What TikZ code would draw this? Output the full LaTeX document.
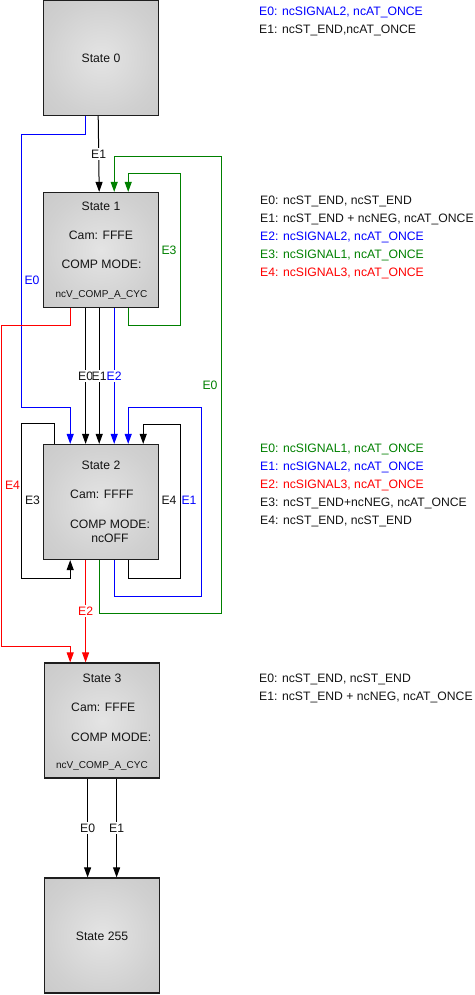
\documentclass[tikz,border=0pt]{standalone}
\usepackage{fontspec}
\setmainfont{Liberation Sans}
\usetikzlibrary{arrows.meta,calc}
\definecolor{cblue}{RGB}{0,0,255}
\definecolor{cgreen}{RGB}{0,128,0}
\definecolor{cred}{RGB}{255,0,0}
\definecolor{boxin}{RGB}{228,228,228}
\definecolor{boxedge}{RGB}{208,208,208}
\definecolor{boxcorner}{RGB}{202,202,202}
\definecolor{boxline}{RGB}{30,30,30}
\definecolor{ink}{RGB}{20,20,20}
\pgfdeclareradialshading{boxshade}{\pgfpoint{0bp}{0bp}}{color(0bp)=(boxin); color(25bp)=(boxedge); color(36bp)=(boxcorner); color(50bp)=(boxcorner)}
\begin{document}
\begin{tikzpicture}[x=1pt,y=-1pt,
  state/.style={draw=boxline, line width=1.2pt, minimum width=115pt, minimum height=115pt,
    inner sep=0pt, shading=boxshade},
  wire/.style={line width=1pt, -{Triangle[width=7pt,length=10pt]}},
  txt/.style={font=\fontsize{12.2}{14}\selectfont, text=ink, inner sep=0pt, text height=8.7pt, text depth=0pt},
  small/.style={font=\fontsize{10}{12}\selectfont, text=ink, inner sep=0pt, text height=7.2pt, text depth=0pt},
  lbl/.style={txt, fill=white, inner xsep=0pt, inner ysep=1.5pt},
  leg/.style={txt, anchor=west}
]
\useasboundingbox (0,0) rectangle (474,995);

% states
\node[state] (s0) at (101,58) {};
\node[state] (s1) at (101,250) {};
\node[state] (s2) at (101,502) {};
\node[state] (s3) at (102,720.5) {};
\node[state] (s255) at (102,935.5) {};

% state texts
\node[txt] (t0) at (101,58) {State 0};
\node[txt] (t1a) at (101,206) {State 1};
\node[txt] (t1b) at (101,235) {Cam: FFFE};
\node[txt] (t1c) at (101.5,264) {COMP MODE:};
\node[small] (t1d) at (101.5,294) {ncV\_COMP\_A\_CYC};
\node[txt] (t2a) at (101,465) {State 2};
\node[txt, anchor=west] (t2b) at (70,494) {Cam: FFFF};
\node[txt] (t2c) at (110,524) {COMP MODE:};
\node[txt] (t2d) at (110,538) {ncOFF};
\node[txt] (t3a) at (102,678) {State 3};
\node[txt, anchor=west] (t3b) at (71,707) {Cam: FFFE};
\node[txt, anchor=west] (t3c) at (71,737) {COMP MODE:};
\node[small] (t3d) at (102,764.5) {ncV\_COMP\_A\_CYC};
\node[txt] (t255) at (102,936) {State 255};

% State 0 -> State 1 (E1)
\draw[wire] ([xshift=55.3pt]s0.south west) -- ([xshift=56.3pt]s1.north west)
  node[lbl, midway] {E1};
% State 0 -> State 2 (E0, blue)
\draw[wire, cblue] ([xshift=42.7pt]s0.south west) -- ++(0,18) -| (21,407)
  -| ([xshift=27.3pt]s2.north west);
\node[txt, text=cblue] (l0e0) at (32,280) {E0};

% State 1 -> State 2
\draw[wire] ([xshift=42.7pt]s1.south west) -- ([xshift=42.7pt]s2.north west)
  node[lbl, midway] {E0};
\draw[wire] ([xshift=56.3pt]s1.south west) -- ([xshift=56.3pt]s2.north west)
  node[lbl, midway] {E1};
\draw[wire, cblue] ([xshift=71.3pt]s1.south west) -- ([xshift=71.3pt]s2.north west)
  node[lbl, midway, text=cblue] {E2};

% State 1 -> State 3 (E4, red)
\draw[wire, cred] ([xshift=27.3pt]s1.south west) -- ++(0,17) -| (1,646)
  -| ([xshift=26.3pt]s3.north west);
\node[txt, text=cred] (l1e4) at (12.5,485) {E4};

% State 1 self loop (E3, green)
\draw[wire, cgreen] ([xshift=85.3pt]s1.south west) -- ++(0,17) -| (180.3,174)
  -| ([xshift=85.3pt]s1.north west);
\node[txt, text=cgreen] (l1e3) at (169,250) {E3};

% State 2 -> State 1 (E0, green)
\draw[wire, cgreen] ([xshift=56.3pt]s2.south west) -- ++(0,53) -| (221,157)
  -| ([xshift=71.3pt]s1.north west);
\node[txt, text=cgreen] (l2e0) at (210,385) {E0};

% State 2 self loops
\draw[wire] ([xshift=12pt]s2.north west) -- ++(0,-20) -| (21,578)
  -| ([xshift=27.3pt]s2.south west);
\node[txt] (l2e3) at (32.5,500) {E3};
\draw[wire] ([xshift=85.3pt]s2.south west) -- ++(0,18) -| (180.3,424)
  -| ([xshift=100.3pt]s2.north west);
\node[txt] (l2e4) at (169,500) {E4};
\draw[wire, cblue] ([xshift=71.3pt]s2.south west) -- ++(0,36) -| (201,407)
  -| ([xshift=85.3pt]s2.north west);
\node[txt, text=cblue] (l2e1) at (189,500) {E1};

% State 2 -> State 3 (E2, red)
\draw[wire, cred] ([xshift=42.7pt]s2.south west) -- ([xshift=41.7pt]s3.north west)
  node[lbl, midway, text=cred] {E2};

% State 3 -> State 255
\draw[wire] ([xshift=43.7pt]s3.south west) -- ([xshift=43.7pt]s255.north west)
  node[lbl, midway] {E0};
\draw[wire] ([xshift=72.7pt]s3.south west) -- ([xshift=72.7pt]s255.north west)
  node[lbl, midway] {E1};

% legends
\node[leg, text=cblue] (g0a) at (259,11) {E0: ncSIGNAL2, ncAT\_ONCE};
\node[leg] (g0b) at (259,29) {E1: ncST\_END,ncAT\_ONCE};

\node[leg] (g1a) at (260,200) {E0: ncST\_END, ncST\_END};
\node[leg] (g1b) at (260,218) {E1: ncST\_END + ncNEG, ncAT\_ONCE};
\node[leg, text=cblue] (g1c) at (260,236) {E2: ncSIGNAL2, ncAT\_ONCE};
\node[leg, text=cgreen] (g1d) at (260,254) {E3: ncSIGNAL1, ncAT\_ONCE};
\node[leg, text=cred] (g1e) at (260,272) {E4: ncSIGNAL3, ncAT\_ONCE};

\node[leg, text=cgreen] (g2a) at (260,448) {E0: ncSIGNAL1, ncAT\_ONCE};
\node[leg, text=cblue] (g2b) at (260,466) {E1: ncSIGNAL2, ncAT\_ONCE};
\node[leg, text=cred] (g2c) at (260,484) {E2: ncSIGNAL3, ncAT\_ONCE};
\node[leg] (g2d) at (260,502) {E3: ncST\_END+ncNEG, ncAT\_ONCE};
\node[leg] (g2e) at (260,520) {E4: ncST\_END, ncST\_END};

\node[leg] (g3a) at (259,678) {E0: ncST\_END, ncST\_END};
\node[leg] (g3b) at (259,696) {E1: ncST\_END + ncNEG, ncAT\_ONCE};
\end{tikzpicture}
\end{document}
